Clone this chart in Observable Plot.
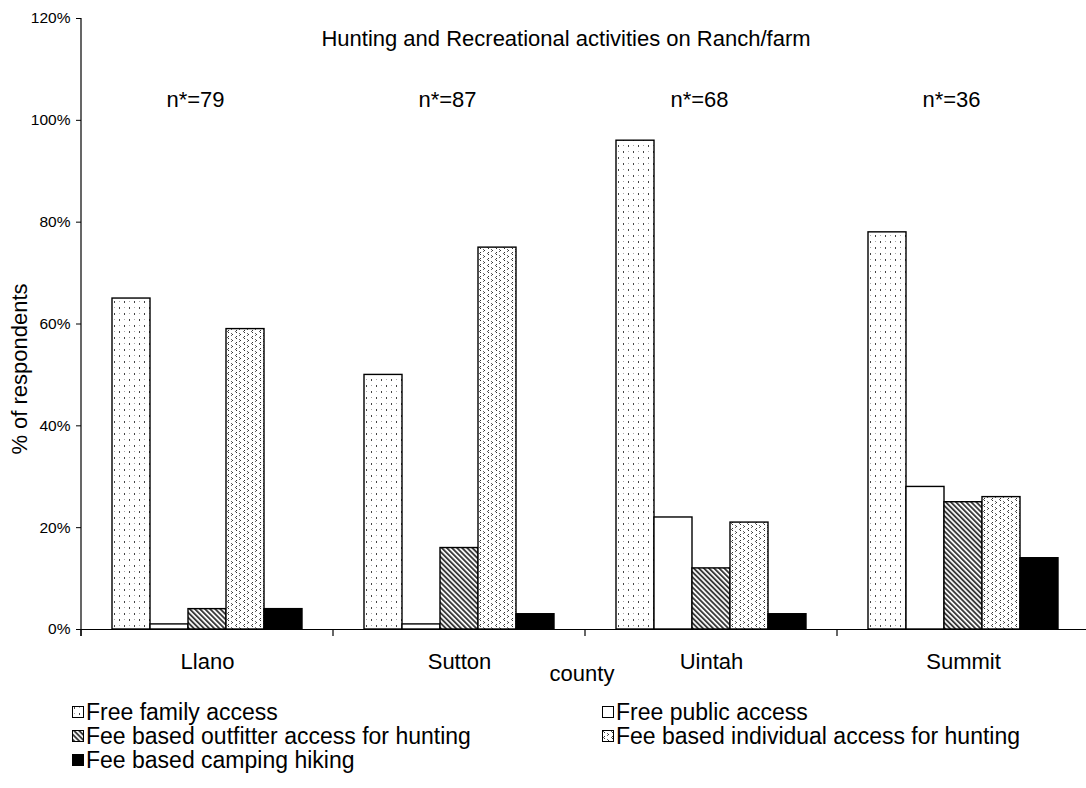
<!DOCTYPE html>
<html>
<head>
<meta charset="utf-8">
<script src="https://cdn.jsdelivr.net/npm/d3@7"></script>
<script src="https://cdn.jsdelivr.net/npm/@observablehq/plot@0.6"></script>
<style>
  html, body { margin: 0; padding: 0; background: #fff; overflow: hidden; }
  #chart { position: relative; width: 1086px; height: 788px; overflow: hidden; font-family: "Liberation Sans", Arial, sans-serif; color: #000; }
  #chart svg.plot { max-width: none !important; }
  .legend { position: absolute; left: 0; top: 0; width: 1086px; }
  .item { position: absolute; display: flex; align-items: center; font-size: 23px; white-space: nowrap; line-height: 1; height: 24px; }
  .item svg { margin-right: 2px; }
</style>
</head>
<body>
<div id="chart"></div>
<script>
const counties = ["Llano", "Sutton", "Uintah", "Summit"];
const seriesNames = [
  "Free family access",
  "Free public access",
  "Fee based outfitter access for hunting",
  "Fee based individual access for hunting",
  "Fee based camping hiking"
];
const familyAccess     = [65, 50, 96, 78];
const publicAccess     = [1, 1, 22, 28];
const outfitterAccess  = [4, 16, 12, 25];
const individualAccess = [59, 75, 21, 26];
const campingHiking    = [4, 3, 3, 14];
const sampleSizes      = [79, 87, 68, 36];
const yTicks = [0, 20, 40, 60, 80, 100, 120];
const chartTitle = "Hunting and Recreational activities on Ranch/farm";
const xLabel = "county";
const yLabel = "% of respondents";
const seriesFills = ["url(#pFamily)", "#ffffff", "url(#pOutfitter)", "url(#pIndividual)", "#000000"];

const seriesValues = [familyAccess, publicAccess, outfitterAccess, individualAccess, campingHiking];
const rows = [];
counties.forEach((c, i) => {
  seriesNames.forEach((s, j) => rows.push({county: c, series: s, value: seriesValues[j][i]}));
});
const nRows = counties.map((c, i) => ({county: c, label: `n*=${sampleSizes[i]}`}));

const FONT = "'Liberation Sans', Arial, sans-serif";
const chart = Plot.plot({
  width: 1090,
  height: 700,
  marginLeft: 79,
  marginRight: 0,
  marginTop: 18,
  marginBottom: 71,
  style: {fontFamily: FONT, fontSize: "15.5px", color: "#000", background: "#fff", maxWidth: "none"},
  fx: {domain: counties, padding: 0, label: null},
  x: {domain: seriesNames, paddingInner: 0, paddingOuter: 0.737, axis: null},
  y: {domain: [0, 120]},
  color: {domain: seriesNames, range: seriesFills},
  marks: [
    Plot.barY(rows, {fx: "county", x: "series", y: "value", fill: "series", stroke: "#000", strokeWidth: 1.4}),
    Plot.ruleY([0], {stroke: "#000", strokeWidth: 1.2}),
    Plot.text(nRows, {fx: "county", y: () => 104, text: "label", fontSize: 22, dx: -12}),
    Plot.axisY({ticks: yTicks, tickFormat: d => d + "%", tickSize: 5, tickPadding: 6, fontSize: 15.5, label: null}),
    Plot.axisFx({anchor: "bottom", tickSize: 0, tickPadding: 24, fontSize: 22, label: null})
  ]
});

const svg = d3.select(chart);
const defs = svg.insert("defs", ":first-child");
const pf = defs.append("pattern").attr("id", "pFamily").attr("patternUnits", "userSpaceOnUse").attr("width", 10).attr("height", 12);
pf.append("rect").attr("width", 10).attr("height", 12).attr("fill", "#fff");
pf.append("rect").attr("x", 2).attr("y", 1).attr("width", 1).attr("height", 2).attr("fill", "#444");
pf.append("rect").attr("x", 7).attr("y", 7).attr("width", 1).attr("height", 2).attr("fill", "#444");
pf.append("rect").attr("x", 7).attr("y", 1).attr("width", 1).attr("height", 1).attr("fill", "#aaa");
pf.append("rect").attr("x", 2).attr("y", 7).attr("width", 1).attr("height", 1).attr("fill", "#aaa");

const po = defs.append("pattern").attr("id", "pOutfitter").attr("patternUnits", "userSpaceOnUse").attr("width", 3.6).attr("height", 10).attr("patternTransform", "rotate(-45)");
po.append("rect").attr("width", 3.6).attr("height", 10).attr("fill", "#fff");
po.append("rect").attr("width", 1.9).attr("height", 10).attr("fill", "#3a3a3a");

const pi = defs.append("pattern").attr("id", "pIndividual").attr("patternUnits", "userSpaceOnUse").attr("width", 8).attr("height", 6);
pi.append("rect").attr("width", 8).attr("height", 6).attr("fill", "#fff");
[[2,0,"#333"],[1,1,"#666"],[2,2,"#333"],[5,3,"#666"],[6,4,"#333"],[5,5,"#666"]].forEach(([x,y,c]) =>
  pi.append("rect").attr("x", x).attr("y", y).attr("width", 1).attr("height", 1).attr("fill", c));

// axis line and category boundary ticks from Plot's scales
const fxS = chart.scale("fx");
const yS = chart.scale("y");
const y0 = yS.apply(0), yTop = yS.apply(120);
const left = fxS.apply(counties[0]);
const bounds = counties.map(c => fxS.apply(c)).concat([fxS.apply(counties[counties.length - 1]) + fxS.bandwidth]);
const g = svg.append("g").attr("stroke", "#000").attr("stroke-width", 1.2);
g.append("line").attr("x1", left).attr("x2", left).attr("y1", yTop).attr("y2", y0 + 7);
bounds.forEach(b => g.append("line").attr("x1", b).attr("x2", b).attr("y1", y0).attr("y2", y0 + 7));

const t = svg.append("g").attr("font-family", FONT).attr("font-size", 22).attr("fill", "#000");
t.append("text").attr("x", 566).attr("y", 46).attr("text-anchor", "middle").text(chartTitle);
t.append("text").attr("transform", "translate(19,369) rotate(-90)").attr("dy", "0.35em").attr("text-anchor", "middle").text(yLabel);
t.append("text").attr("x", 582).attr("y", 681).attr("text-anchor", "middle").text(xLabel);

const root = document.getElementById("chart");
root.appendChild(chart);

// legend
const legend = document.createElement("div");
legend.className = "legend";
const legendPos = [[72, 712], [602, 712], [72, 736], [602, 736], [72, 760]];
seriesNames.forEach((s, j) => {
  const it = document.createElement("div");
  it.className = "item";
  it.style.left = legendPos[j][0] + "px";
  it.style.top = (legendPos[j][1] - 12) + "px";
  it.innerHTML = `<svg width="12" height="12"><rect x="0.5" y="0.5" width="11" height="11" fill="${seriesFills[j]}" stroke="#000" stroke-width="1"/></svg><span>${s}</span>`;
  legend.appendChild(it);
});
root.appendChild(legend);
</script>
</body>
</html>
